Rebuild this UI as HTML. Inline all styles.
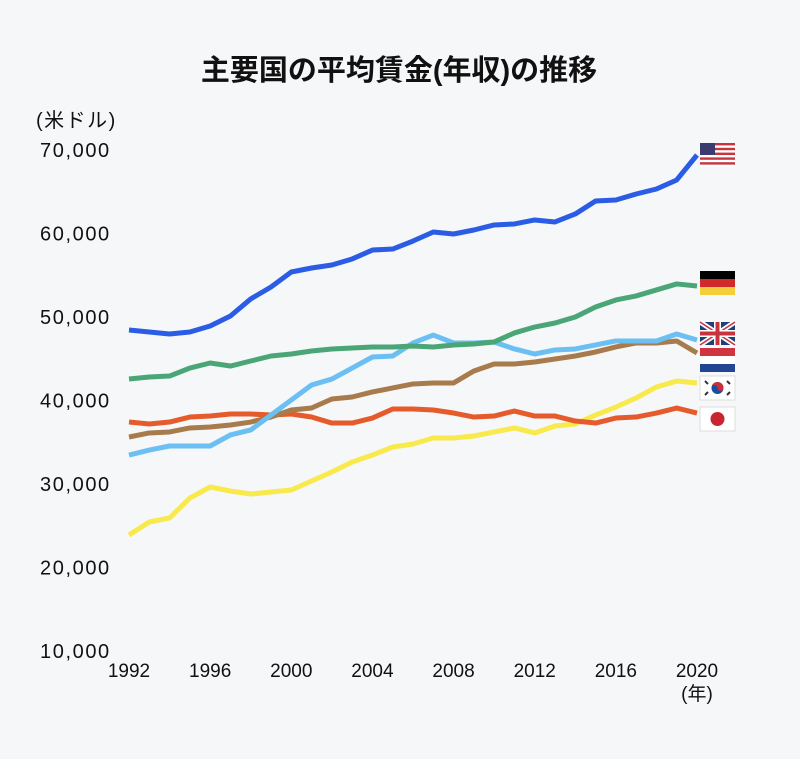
<!DOCTYPE html>
<html><head><meta charset="utf-8"><style>
body{margin:0;background:#f6f7f9;}
svg text{font-family:"Liberation Sans","Noto Sans CJK JP",sans-serif;fill:#111;}
</style></head><body>
<svg id="chart" width="800" height="754" xmlns="http://www.w3.org/2000/svg">
<rect width="800" height="754" fill="#f6f7f9"/>
<text x="399" y="80" text-anchor="middle" font-size="29" font-weight="bold">主要国の平均賃金(年収)の推移</text>
<text x="36" y="127" font-size="20" letter-spacing="1.5">(米ドル)</text>
<text x="697" y="700" text-anchor="middle" font-size="19">(年)</text>
<g id="yt"></g><g id="xt"></g><g id="lines"></g>
<g>
<rect x="700" y="143" width="35" height="24" fill="#fff"/>
<g fill="#c8343e"><rect x="700" y="143" width="35" height="2.4"/><rect x="700" y="147.8" width="35" height="2.4"/><rect x="700" y="152.6" width="35" height="2.4"/><rect x="700" y="157.4" width="35" height="2.4"/><rect x="700" y="162.2" width="35" height="2.4"/></g>
<rect x="700" y="143" width="15" height="12" fill="#3c3b6e"/></g>
<g><rect x="700" y="271" width="35" height="8" fill="#000"/><rect x="700" y="279" width="35" height="8" fill="#d02a2a"/><rect x="700" y="287" width="35" height="8" fill="#f5cf3a"/></g>
<g><rect x="700" y="322" width="35" height="23" fill="#1f3f7a"/>
<path d="M700 322L735 345M735 322L700 345" stroke="#fff" stroke-width="5"/><path d="M700 322L735 345M735 322L700 345" stroke="#c8343e" stroke-width="1.6"/>
<rect x="714" y="322" width="7" height="23" fill="#fff"/><rect x="700" y="330" width="35" height="7" fill="#fff"/>
<rect x="715.5" y="322" width="4" height="23" fill="#c8343e"/><rect x="700" y="331.5" width="35" height="4" fill="#c8343e"/></g>
<g><rect x="700" y="348" width="35" height="8" fill="#d0343e"/><rect x="700" y="356" width="35" height="8" fill="#fff"/><rect x="700" y="364" width="35" height="8" fill="#22468f"/></g>
<g><rect x="700" y="376" width="35" height="24" fill="#fff" stroke="#ddd"/><circle cx="717.5" cy="388" r="6" fill="#1a4f9c"/><path d="M711.5 388a6 6 0 0 1 12 0a3 3 0 0 1-6 0a3 3 0 0 0-6 0z" fill="#cd2e3a"/>
<g stroke="#333" stroke-width="2"><path d="M705 381l3 3M727 381l3 3M705 395l3-3M727 395l3-3"/></g></g>
<g><rect x="700" y="407" width="35" height="24" fill="#fff" stroke="#ddd"/><circle cx="717.5" cy="419" r="7" fill="#c8262e"/></g>
</svg>
<script>
const years=[1992,1993,1994,1995,1996,1997,1998,1999,2000,2001,2002,2003,2004,2005,2006,2007,2008,2009,2010,2011,2012,2013,2014,2015,2016,2017,2018,2019,2020];
const yTicks=[10000,20000,30000,40000,50000,60000,70000];
const xTicks=[1992,1996,2000,2004,2008,2012,2016,2020];
const usa=[48440,48200,47960,48200,48920,50120,52160,53590,55390,55870,56230,56950,58020,58140,59100,60180,59940,60420,61020,61140,61620,61380,62340,63890,64010,64730,65330,66410,69400];
const germany=[42570,42810,42930,43890,44490,44130,44730,45330,45570,45930,46170,46290,46410,46410,46530,46410,46650,46770,47010,48090,48800,49280,50000,51200,52040,52520,53240,53960,53710];
const uk=[33470,34070,34550,34550,34550,35870,36470,38260,40060,41860,42570,43890,45210,45330,46890,47840,46890,46890,47010,46170,45570,46050,46170,46650,47130,47130,47130,47960,47250];
const netherlands=[35630,36110,36230,36710,36830,37070,37420,38020,38860,39100,40180,40420,41020,41500,41980,42100,42100,43530,44370,44370,44610,44970,45330,45810,46410,46890,46890,47130,45690];
const japan=[37420,37190,37420,38020,38140,38380,38380,38260,38380,38020,37300,37300,37900,38980,38980,38860,38500,38020,38140,38740,38140,38140,37540,37300,37900,38020,38500,39100,38500];
const korea=[23890,25450,25930,28320,29640,29160,28800,29040,29280,30360,31440,32640,33470,34430,34790,35510,35510,35750,36230,36710,36110,36950,37190,38260,39220,40300,41620,42330,42090];
const xs=y=>129+(y-1992)*(697-129)/28;
const ys=v=>651-(v-10000)*(651-150)/60000;
const NS="http://www.w3.org/2000/svg";
const yt=document.getElementById('yt'),xt=document.getElementById('xt'),lg=document.getElementById('lines');
yTicks.forEach(v=>{const t=document.createElementNS(NS,'text');


t.setAttribute('x',40);t.setAttribute('y',ys(v)+7);t.setAttribute('font-size','20');t.setAttribute('letter-spacing','1.6');t.textContent=v.toLocaleString('en-US');yt.appendChild(t);});
xTicks.forEach(v=>{const t=document.createElementNS(NS,'text');


t.setAttribute('x',xs(v));t.setAttribute('y',677);t.setAttribute('text-anchor','middle');t.setAttribute('font-size','19');t.textContent=v;xt.appendChild(t);});
const series=[['korea',korea,'#f8e94c'],['japan',japan,'#e55b2b'],['netherlands',netherlands,'#a77b4b'],['uk',uk,'#6bbff3'],['germany',germany,'#4aa676'],['usa',usa,'#2a5ce6']];
series.forEach(([n,d,c])=>{const p=document.createElementNS(NS,'polyline');


p.setAttribute('points',d.map((v,i)=>xs(years[i])+','+ys(v)).join(' '));
p.setAttribute('fill','none');p.setAttribute('stroke',c);p.setAttribute('stroke-width','5');p.setAttribute('stroke-linejoin','round');lg.appendChild(p);});
</script>
</body></html>
